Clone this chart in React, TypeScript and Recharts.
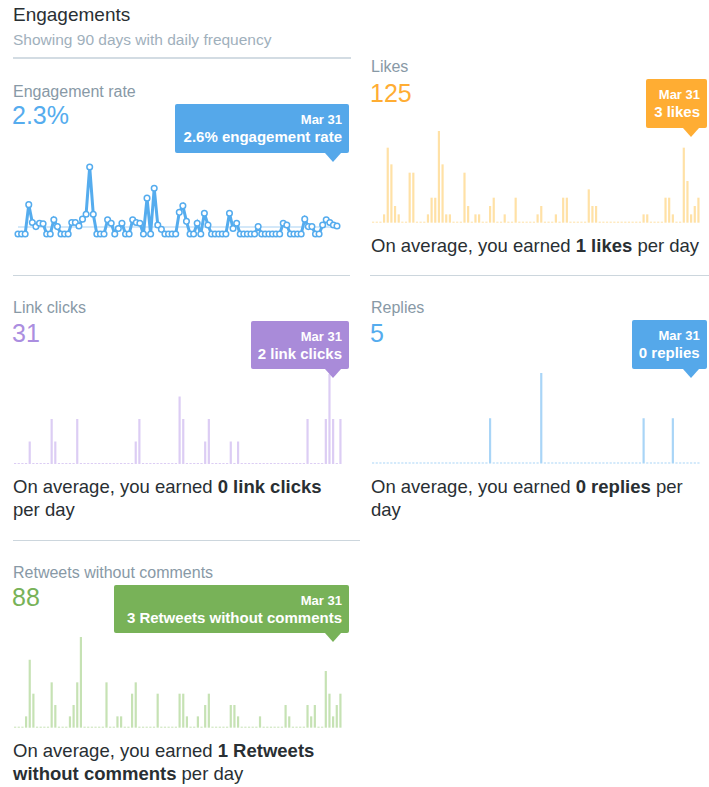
import React from 'react';
import { LineChart, Line, BarChart, Bar, XAxis, YAxis, ReferenceLine } from 'recharts';

// 90 daily points, Jan 1 - Mar 31
const months: [string, number][] = [['Jan', 31], ['Feb', 28], ['Mar', 31]];
const days: string[] = months.flatMap(([m, n]) => Array.from({ length: n }, (_, i) => `${m} ${i + 1}`));

const engagementRate = [
  0, 0, 0, 9.5, 3.7, 2.4, 3.5, 3.3, 0, 0,
  4.6, 2.4, 0, 0, 0, 3.7, 3.7, 2.6, 4.8, 6.4,
  21.7, 6.4, 0, 0, 0, 4.6, 3.5, 0, 1.8, 3.5,
  0, 0, 4.6, 3.7, 3.5, 0, 11.6, 0, 14.8, 2.9,
  1.5, 0, 0, 0, 0, 7.0, 9.1, 4.1, 0, 0,
  3.5, 0, 6.7, 2.9, 0, 0, 0, 0, 0, 6.7,
  1.8, 3.5, 0, 0, 0, 0, 0, 2.4, 0, 0,
  0, 0, 0, 0, 3.5, 2.9, 0, 0, 0, 0,
  4.8, 2.4, 2.4, 0, 0, 2.9, 4.6, 3.7, 2.9, 2.6,
];

const likes = [
  0, 0, 0, 1, 9, 7, 2, 1, 0, 0,
  6, 6, 0, 0, 0, 1, 3, 3, 11, 7,
  1, 1, 0, 0, 0, 6, 2, 0, 1, 1,
  0, 0, 2, 3, 0, 0, 1, 0, 0, 3,
  0, 0, 0, 0, 0, 1, 2, 0, 0, 0,
  1, 0, 3, 3, 0, 0, 0, 0, 0, 4,
  2, 2, 0, 0, 0, 0, 0, 0, 0, 0,
  0, 0, 0, 0, 1, 1, 0, 0, 0, 0,
  3, 3, 1, 0, 0, 9, 5, 1, 2, 3,
];

const linkClicks = [
  0, 0, 0, 0, 1, 0, 0, 0, 0, 0,
  2, 1, 0, 0, 0, 0, 0, 2, 0, 0,
  0, 0, 0, 0, 0, 0, 0, 0, 0, 0,
  0, 0, 0, 1, 2, 0, 0, 0, 0, 0,
  0, 0, 0, 0, 0, 3, 2, 0, 0, 0,
  0, 0, 1, 2, 0, 0, 0, 0, 0, 1,
  0, 1, 0, 0, 0, 0, 0, 0, 0, 0,
  0, 0, 0, 0, 0, 0, 0, 0, 0, 0,
  2, 0, 0, 0, 0, 2, 4, 2, 0, 2,
];

const replies = [
  0, 0, 0, 0, 0, 0, 0, 0, 0, 0,
  0, 0, 0, 0, 0, 0, 0, 0, 0, 0,
  0, 0, 0, 0, 0, 0, 0, 0, 0, 0,
  0, 0, 1, 0, 0, 0, 0, 0, 0, 0,
  0, 0, 0, 0, 0, 0, 2, 0, 0, 0,
  0, 0, 0, 0, 0, 0, 0, 0, 0, 0,
  0, 0, 0, 0, 0, 0, 0, 0, 0, 0,
  0, 0, 0, 0, 1, 0, 0, 0, 0, 0,
  0, 0, 1, 0, 0, 0, 0, 0, 0, 0,
];

const retweets = [
  0, 0, 0, 1, 6, 3, 0, 0, 0, 0,
  4, 2, 0, 0, 0, 1, 2, 4, 8, 0,
  0, 0, 0, 0, 0, 4, 0, 0, 1, 1,
  0, 0, 3, 4, 0, 0, 0, 0, 0, 3,
  0, 0, 0, 0, 0, 3, 3, 1, 0, 0,
  1, 0, 2, 3, 0, 0, 0, 0, 0, 2,
  2, 1, 0, 0, 0, 0, 0, 1, 0, 0,
  0, 0, 0, 0, 2, 1, 0, 0, 0, 0,
  2, 1, 2, 0, 0, 5, 3, 1, 2, 3,
];

const rows = days.map((day, i) => ({
  day,
  rate: engagementRate[i],
  likes: likes[i],
  linkClicks: linkClicks[i],
  replies: replies[i],
  retweets: retweets[i],
}));

const FONT = '"Liberation Sans", Arial, Helvetica, sans-serif';
const DARK = '#292f33';
const GREY = '#8899a6';

function Txt({ x, y, size, color, weight = 400, lh, children, align = 'left', w }: any) {
  return (
    <div
      style={{
        position: 'absolute',
        left: x,
        top: y,
        width: w,
        fontSize: size,
        lineHeight: `${lh}px`,
        color,
        fontWeight: weight,
        whiteSpace: 'nowrap',
        textAlign: align,
      }}
    >
      {children}
    </div>
  );
}

function Tip({ x, y, w, h, color, line2, tipX }: any) {
  return (
    <>
      <div style={{ position: 'absolute', left: x, top: y, width: w, height: h, background: color, borderRadius: 2 }} />
      <div
        style={{
          position: 'absolute',
          left: tipX - 8,
          top: y + h,
          width: 0,
          height: 0,
          borderLeft: '8px solid transparent',
          borderRight: '8px solid transparent',
          borderTop: `9px solid ${color}`,
        }}
      />
      <Txt x={x} y={y + 8} w={w - 7} size={13} lh={16} color="#fff" weight={700} align="right">
        Mar 31
      </Txt>
      <Txt x={x} y={y + 24} w={w - 7} size={15} lh={18} color="#fff" weight={700} align="right">
        {line2}
      </Txt>
    </>
  );
}

function SparkBars({ dataKey, color, max, left, top, height }: any) {
  return (
    <div style={{ position: 'absolute', left, top }}>
      <BarChart width={329} height={height} data={rows} margin={{ top: 0, right: 0, bottom: 0, left: 0 }}>
        <XAxis dataKey="day" hide />
        <YAxis hide domain={[0, max]} />
        <Bar dataKey={dataKey} fill={color} barSize={2.2} minPointSize={1} isAnimationActive={false} />
      </BarChart>
    </div>
  );
}

function Rule({ x, y, w, h = 1, color = '#ccd6dd' }: any) {
  return <div style={{ position: 'absolute', left: x, top: y, width: w, height: h, background: color }} />;
}

export default function App() {
  return (
    <div
      style={{
        position: 'absolute',
        left: 0,
        top: 0,
        width: 709,
        height: 787,
        background: '#fff',
        fontFamily: FONT,
        overflow: 'hidden',
      }}
    >
      <Txt x={13} y={4} size={19} lh={22} color={DARK}>Engagements</Txt>
      <Txt x={13} y={30.5} size={15.5} lh={18} color="#9fb0bc">Showing 90 days with daily frequency</Txt>
      <Rule x={13} y={57} w={338} h={2} color="#d3dce3" />

      {/* Engagement rate */}
      <Txt x={13} y={81.5} size={16} lh={19} color={GREY}>Engagement rate</Txt>
      <Txt x={12} y={100.5} size={25} lh={28} color="#55acee">2.3%</Txt>
      <div style={{ position: 'absolute', left: 13, top: 161 }}>
        <LineChart width={329} height={78} data={rows} margin={{ top: 5, right: 5, bottom: 5, left: 5 }}>
          <XAxis dataKey="day" hide />
          <YAxis hide domain={[0, 22]} />
          <ReferenceLine y={2.3} stroke="#c4e1f7" strokeWidth={1.5} />
          <Line
            type="linear"
            dataKey="rate"
            stroke="#55acee"
            strokeWidth={3}
            dot={{ r: 2.8, fill: '#fff', stroke: '#55acee', strokeWidth: 1.5 }}
            isAnimationActive={false}
          />
        </LineChart>
      </div>
      <Tip x={175} y={104} w={174} h={48.5} color="#55a8ea" line2="2.6% engagement rate" tipX={333} />
      <Rule x={13} y={275} w={337} />

      {/* Likes */}
      <Txt x={371} y={56.5} size={16} lh={19} color={GREY}>Likes</Txt>
      <Txt x={370} y={79} size={25} lh={28} color="#ffad33">125</Txt>
      <SparkBars dataKey="likes" color="#ffe1a6" max={11} left={371} top={131.3} height={91.7} />
      <Tip x={646} y={79} w={61} h={49} color="#ffad33" line2="3 likes" tipX={691} />
      <Txt x={371} y={234} size={18.5} lh={23} color={DARK}>
        On average, you earned <b>1 likes</b> per day
      </Txt>
      <Rule x={370} y={275} w={339} />

      {/* Link clicks */}
      <Txt x={13} y={298.3} size={16} lh={19} color={GREY}>Link clicks</Txt>
      <Txt x={12} y={319} size={25} lh={28} color="#ab8ee0">31</Txt>
      <SparkBars dataKey="linkClicks" color="#dccdf4" max={4} left={13} top={373.5} height={90} />
      <Tip x={250.7} y={320.7} w={98.3} h={48.6} color="#a98bd9" line2="2 link clicks" tipX={333} />
      <Txt x={13} y={475} size={18.5} lh={23} color={DARK}>
        On average, you earned <b>0 link clicks</b>
        <br />
        per day
      </Txt>

      {/* Replies */}
      <Txt x={371} y={298.3} size={16} lh={19} color={GREY}>Replies</Txt>
      <Txt x={370} y={319} size={25} lh={28} color="#55acee">5</Txt>
      <SparkBars dataKey="replies" color="#a9d5f7" max={2} left={371} top={373} height={90.5} />
      <Tip x={631.7} y={320} w={75} h={49.3} color="#55a8ea" line2="0 replies" tipX={691} />
      <Txt x={371} y={475} size={18.5} lh={23} color={DARK}>
        On average, you earned <b>0 replies</b> per
        <br />
        day
      </Txt>
      <Rule x={13} y={540} w={347} />

      {/* Retweets without comments */}
      <Txt x={13} y={562.5} size={16} lh={19} color={GREY}>Retweets without comments</Txt>
      <Txt x={12} y={583} size={25} lh={28} color="#78b258">88</Txt>
      <SparkBars dataKey="retweets" color="#c6e2b4" max={8} left={13} top={637} height={90.7} />
      <Tip x={114.3} y={585} w={234.7} h={47.7} color="#78b258" line2="3 Retweets without comments" tipX={333} />
      <Txt x={13} y={740} size={18.5} lh={22.5} color={DARK}>
        On average, you earned <b>1 Retweets</b>
        <br />
        <b>without comments</b> per day
      </Txt>
    </div>
  );
}
